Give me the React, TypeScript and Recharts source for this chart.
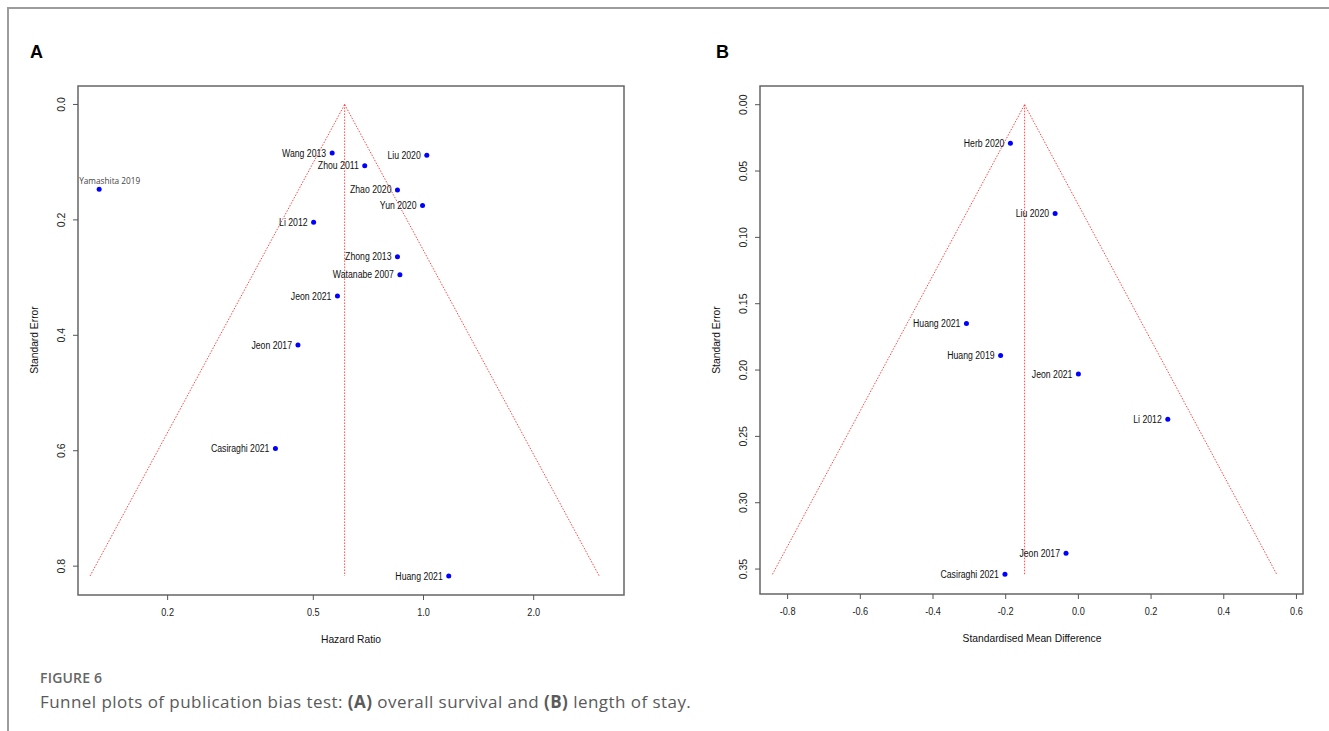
import React from 'react';
import { ScatterChart, Scatter, XAxis, YAxis, ReferenceLine, ReferenceArea } from 'recharts';

// Panel A: overall survival (hazard ratio, log scale)
const studiesA = ['Wang 2013', 'Zhou 2011', 'Liu 2020', 'Yamashita 2019', 'Zhao 2020', 'Yun 2020', 'Li 2012',
  'Zhong 2013', 'Watanabe 2007', 'Jeon 2021', 'Jeon 2017', 'Casiraghi 2021', 'Huang 2021'];
const hazardRatioA = [0.563, 0.691, 1.021, 0.130, 0.849, 0.994, 0.501, 0.849, 0.862, 0.582, 0.454, 0.394, 1.172];
const stdErrA = [0.084, 0.106, 0.088, 0.147, 0.148, 0.175, 0.204, 0.264, 0.295, 0.332, 0.417, 0.596, 0.817];
const pooledA = 0.609;
const xTicksA = [0.2, 0.5, 1, 2];
const yTicksA = [0, 0.2, 0.4, 0.6, 0.8];

// Panel B: length of stay (standardised mean difference)
const studiesB = ['Herb 2020', 'Liu 2020', 'Huang 2021', 'Huang 2019', 'Jeon 2021', 'Li 2012', 'Jeon 2017', 'Casiraghi 2021'];
const smdB = [-0.187, -0.064, -0.308, -0.214, 0.0, 0.246, -0.034, -0.202];
const stdErrB = [0.029, 0.082, 0.165, 0.189, 0.203, 0.237, 0.338, 0.354];
const pooledB = -0.148;
const xTicksB = [-0.8, -0.6, -0.4, -0.2, 0, 0.2, 0.4, 0.6];
const yTicksB = [0, 0.05, 0.1, 0.15, 0.2, 0.25, 0.3, 0.35];

// the one label that was typeset differently in the source figure
const ODD_LABEL = 'Yamashita 2019';

const SANS = '"Liberation Sans", Arial, sans-serif';
const FUNNEL = { stroke: '#ff3030', strokeWidth: 0.9, strokeDasharray: '1.5 1.5' };
const SQUEEZE = 0.87; // the R figure was squashed a little horizontally

// text squashed horizontally around its anchor point
const SqText = ({ x, y, children, ...rest }: any) => (
  <g transform={`translate(${x},${y}) scale(${SQUEEZE},1)`}>
    <text x={0} y={0} {...rest}>{children}</text>
  </g>
);

const StudyDot = (props: any) => {
  const { cx, cy } = props;
  const name = props.payload?.name ?? props.name;
  if (cx == null || cy == null) return null;
  return (
    <g>
      <circle cx={cx} cy={cy} r={2.5} fill="#0000ff" />
      {name === ODD_LABEL ? (
        <SqText x={cx - 20} y={cy - 5.5} fontSize={9.5} fontFamily='"Open Sans", sans-serif' fill="#444">{name}</SqText>
      ) : (
        <SqText x={cx - 6} y={cy + 3.6} textAnchor="end" fontSize={10} fontFamily={SANS} fill="#111">{name}</SqText>
      )}
    </g>
  );
};

const RotTick = (props: any) => {
  const { x, y, payload, digits } = props;
  return (
    <text x={x} y={y} transform={`rotate(-90, ${x}, ${y})`} textAnchor="middle" fontSize={10.5}
      fontFamily={SANS} fill="#222">{Number(payload.value).toFixed(digits)}</text>
  );
};

const XTick = (props: any) => {
  const { x, y, payload } = props;
  return (
    <SqText x={x} y={y} dy="0.71em" textAnchor="middle" fontSize={10.5} fontFamily={SANS} fill="#222">
      {Number(payload.value).toFixed(1)}
    </SqText>
  );
};

type PanelProps = {
  left: number; width: number; margin: any;
  points: { x: number; y: number; name: string }[];
  logX?: boolean; xDomain: number[]; yDomain: number[];
  xTicks: number[]; yTicks: number[]; yDigits: number;
  pooled: number; maxSe: number; lo: number; hi: number;
};

const FunnelPanel = (p: PanelProps) => (
  <div style={{ position: 'absolute', left: p.left, top: 0 }}>
    <ScatterChart width={p.width} height={731} margin={p.margin}>
      <XAxis type="number" dataKey="x" scale={p.logX ? 'log' : 'linear'} domain={p.xDomain} allowDataOverflow
        ticks={p.xTicks} interval={0} height={40} axisLine={false} tickSize={5} tickMargin={9}
        tickLine={{ stroke: '#555' }} tick={<XTick />} />
      <YAxis type="number" dataKey="y" reversed domain={p.yDomain} allowDataOverflow ticks={p.yTicks}
        interval={0} width={40} axisLine={false} tickSize={5} tickMargin={8} tickLine={{ stroke: '#555' }}
        tick={<RotTick digits={p.yDigits} />} />
      <ReferenceArea x1={p.xDomain[0]} x2={p.xDomain[1]} y1={p.yDomain[0]} y2={p.yDomain[1]}
        fill="none" fillOpacity={0} stroke="#666" strokeWidth={1.5} ifOverflow="visible" />
      <ReferenceLine segment={[{ x: p.lo, y: p.maxSe }, { x: p.pooled, y: 0 }]} {...FUNNEL} />
      <ReferenceLine segment={[{ x: p.pooled, y: 0 }, { x: p.hi, y: p.maxSe }]} {...FUNNEL} />
      <ReferenceLine segment={[{ x: p.pooled, y: 0 }, { x: p.pooled, y: p.maxSe }]} {...FUNNEL} />
      <Scatter data={p.points} isAnimationActive={false} shape={(s: any) => <StudyDot {...s} />} />
    </ScatterChart>
  </div>
);

export default function App() {
  const pointsA = studiesA.map((name, i) => ({ name, x: hazardRatioA[i], y: stdErrA[i] }));
  const pointsB = studiesB.map((name, i) => ({ name, x: smdB[i], y: stdErrB[i] }));
  const maxA = Math.max(...stdErrA);
  const maxB = Math.max(...stdErrB);
  const lnA = Math.log(pooledA);

  return (
    <div style={{ position: 'absolute', left: 0, top: 0, width: 1329, height: 731, background: '#fff', overflow: 'hidden' }}>
      <FunnelPanel left={0} width={660} margin={{ top: 86, right: 36, bottom: 96, left: 38 }}
        points={pointsA} logX xDomain={[0.1138, 3.53]} yDomain={[-0.032, 0.85]}
        xTicks={xTicksA} yTicks={yTicksA} yDigits={1}
        pooled={pooledA} maxSe={maxA} lo={Math.exp(lnA - 1.96 * maxA)} hi={Math.exp(lnA + 1.96 * maxA)} />
      <FunnelPanel left={680} width={649} margin={{ top: 86, right: 26, bottom: 97, left: 40 }}
        points={pointsB} xDomain={[-0.876, 0.618]} yDomain={[-0.0141, 0.3688]}
        xTicks={xTicksB} yTicks={yTicksB} yDigits={2}
        pooled={pooledB} maxSe={maxB} lo={pooledB - 1.96 * maxB} hi={pooledB + 1.96 * maxB} />

      <svg width={1329} height={731} style={{ position: 'absolute', left: 0, top: 0, pointerEvents: 'none' }}>
        <path d="M8,731 L8,8 L1329,8" fill="none" stroke="#9c9c9c" strokeWidth={2} />
        <text x={30} y={58} fontSize={18} fontWeight="bold" fontFamily={SANS}>A</text>
        <text x={716} y={58} fontSize={18} fontWeight="bold" fontFamily={SANS}>B</text>

        <text x={351} y={643} textAnchor="middle" fontSize={10.3} fontFamily={SANS} fill="#111">Hazard Ratio</text>
        <text x={1032} y={642} textAnchor="middle" fontSize={10.3} fontFamily={SANS} fill="#111">Standardised Mean Difference</text>
        <text x={38} y={340} transform="rotate(-90, 38, 340)" textAnchor="middle" fontSize={10.3} fontFamily={SANS} fill="#111">Standard Error</text>
        <text x={720} y={340} transform="rotate(-90, 720, 340)" textAnchor="middle" fontSize={10.3} fontFamily={SANS} fill="#111">Standard Error</text>

        <text x={40} y={683} fontSize={14} fontWeight={600} letterSpacing={0.2} fontFamily='"Open Sans", sans-serif' fill="#666">FIGURE 6</text>
        <text x={40} y={708} fontSize={17} letterSpacing={0.45} fontFamily='"Open Sans", sans-serif' fill="#5a5a5a">
          Funnel plots of publication bias test: <tspan fontWeight={700}>(A)</tspan> overall survival and{' '}
          <tspan fontWeight={700}>(B)</tspan> length of stay.
        </text>
      </svg>
    </div>
  );
}
